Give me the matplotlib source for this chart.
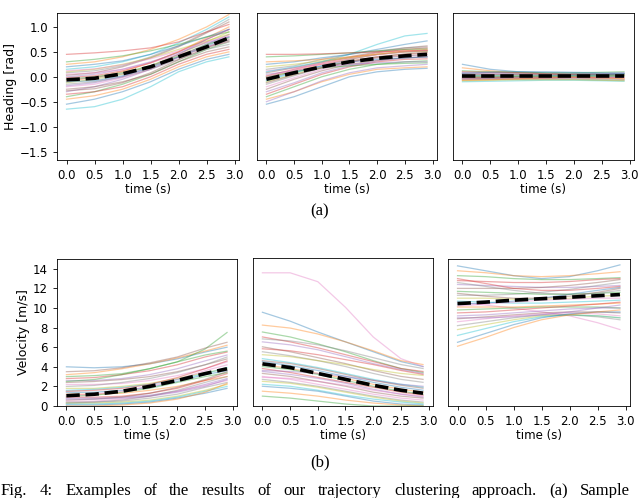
import numpy as np
import matplotlib.pyplot as plt

# time samples (s)
t = [0.0, 0.5, 1.0, 1.5, 2.0, 2.5, 2.9]

# (a) heading [rad], left: turning cluster
heading_turn = [
    [-0.55, -0.45, -0.30, -0.10, 0.15, 0.35, 0.45],
    [-0.45, -0.38, -0.25, -0.05, 0.20, 0.40, 0.50],
    [-0.40, -0.30, -0.15, 0.05, 0.30, 0.55, 0.70],
    [-0.35, -0.30, -0.20, 0.00, 0.25, 0.45, 0.55],
    [-0.30, -0.20, -0.05, 0.15, 0.40, 0.65, 0.85],
    [-0.25, -0.20, -0.10, 0.05, 0.30, 0.50, 0.60],
    [-0.20, -0.15, -0.02, 0.15, 0.38, 0.60, 0.75],
    [-0.15, -0.10, 0.00, 0.15, 0.35, 0.55, 0.65],
    [-0.12, -0.05, 0.05, 0.22, 0.45, 0.70, 0.90],
    [-0.65, -0.60, -0.45, -0.20, 0.10, 0.30, 0.40],
    [-0.10, -0.08, 0.02, 0.18, 0.40, 0.62, 0.80],
    [-0.08, -0.02, 0.10, 0.28, 0.50, 0.78, 1.00],
    [-0.05, 0.00, 0.08, 0.22, 0.42, 0.65, 0.78],
    [-0.02, 0.02, 0.12, 0.28, 0.50, 0.75, 0.95],
    [0.00, 0.05, 0.15, 0.30, 0.48, 0.68, 0.80],
    [0.03, 0.08, 0.20, 0.38, 0.60, 0.88, 1.10],
    [0.05, 0.08, 0.15, 0.28, 0.45, 0.60, 0.70],
    [0.08, 0.12, 0.22, 0.40, 0.62, 0.90, 1.15],
    [0.10, 0.15, 0.25, 0.38, 0.55, 0.72, 0.85],
    [0.15, 0.20, 0.30, 0.45, 0.68, 0.95, 1.20],
    [0.20, 0.25, 0.32, 0.45, 0.62, 0.80, 0.95],
    [0.25, 0.30, 0.40, 0.55, 0.75, 1.00, 1.25],
    [0.30, 0.35, 0.42, 0.52, 0.65, 0.80, 0.90],
    [0.45, 0.48, 0.52, 0.58, 0.70, 0.90, 1.05],
    [-0.18, -0.12, 0.00, 0.20, 0.45, 0.75, 0.95],
    [-0.28, -0.24, -0.12, 0.08, 0.34, 0.58, 0.72],
    [0.12, 0.16, 0.24, 0.36, 0.52, 0.70, 0.82],
    [-0.06, -0.02, 0.06, 0.20, 0.40, 0.60, 0.74],
]
heading_turn_mean = [-0.06, -0.03, 0.06, 0.20, 0.40, 0.60, 0.78]

# (a) heading, middle: slight turn
heading_slight = [
    [-0.55, -0.40, -0.20, 0.00, 0.10, 0.15, 0.17],
    [-0.45, -0.30, -0.10, 0.05, 0.15, 0.18, 0.20],
    [-0.40, -0.20, 0.00, 0.15, 0.25, 0.30, 0.32],
    [-0.35, -0.15, 0.05, 0.20, 0.30, 0.35, 0.36],
    [-0.30, -0.12, 0.08, 0.22, 0.32, 0.38, 0.40],
    [-0.25, -0.05, 0.12, 0.25, 0.33, 0.38, 0.40],
    [-0.20, -0.02, 0.15, 0.28, 0.38, 0.42, 0.44],
    [-0.15, 0.02, 0.18, 0.30, 0.38, 0.42, 0.45],
    [-0.10, 0.05, 0.20, 0.32, 0.40, 0.45, 0.48],
    [-0.08, 0.08, 0.22, 0.35, 0.45, 0.50, 0.52],
    [-0.05, 0.10, 0.22, 0.30, 0.35, 0.38, 0.40],
    [-0.02, 0.12, 0.25, 0.35, 0.45, 0.52, 0.55],
    [0.00, 0.10, 0.18, 0.22, 0.25, 0.27, 0.28],
    [0.02, 0.15, 0.28, 0.38, 0.48, 0.55, 0.58],
    [0.05, 0.12, 0.20, 0.25, 0.28, 0.30, 0.30],
    [0.08, 0.18, 0.30, 0.40, 0.50, 0.58, 0.62],
    [0.12, 0.18, 0.25, 0.32, 0.40, 0.45, 0.48],
    [0.15, 0.22, 0.35, 0.45, 0.52, 0.58, 0.60],
    [0.20, 0.25, 0.32, 0.38, 0.45, 0.50, 0.52],
    [0.10, 0.20, 0.30, 0.45, 0.65, 0.82, 0.87],
    [0.25, 0.30, 0.38, 0.45, 0.55, 0.65, 0.72],
    [0.30, 0.32, 0.35, 0.40, 0.45, 0.50, 0.52],
    [0.40, 0.42, 0.45, 0.48, 0.52, 0.55, 0.56],
    [0.45, 0.45, 0.46, 0.48, 0.50, 0.52, 0.53],
    [-0.50, -0.30, -0.08, 0.08, 0.18, 0.22, 0.25],
    [-0.12, 0.04, 0.18, 0.30, 0.40, 0.46, 0.50],
    [0.00, 0.14, 0.26, 0.36, 0.44, 0.50, 0.53],
]
heading_slight_mean = [-0.05, 0.08, 0.20, 0.30, 0.37, 0.42, 0.45]

# (a) heading, right: straight
heading_straight = [
    [0.25, 0.15, 0.10, 0.08, 0.07, 0.06, 0.06],
    [0.18, 0.12, 0.08, 0.06, 0.05, 0.05, 0.05],
    [0.12, 0.10, 0.09, 0.08, 0.08, 0.09, 0.10],
    [0.10, 0.09, 0.08, 0.06, 0.04, 0.03, 0.02],
    [0.08, 0.07, 0.06, 0.05, 0.05, 0.06, 0.08],
    [0.06, 0.05, 0.05, 0.04, 0.04, 0.04, 0.05],
    [0.05, 0.05, 0.04, 0.03, 0.02, 0.02, 0.02],
    [0.04, 0.04, 0.05, 0.06, 0.06, 0.05, 0.04],
    [0.03, 0.03, 0.03, 0.03, 0.03, 0.03, 0.03],
    [-0.10, -0.09, -0.08, -0.07, -0.07, -0.08, -0.09],
    [0.01, 0.01, 0.01, 0.02, 0.03, 0.04, 0.05],
    [0.00, 0.00, 0.01, 0.01, 0.01, 0.00, 0.00],
    [-0.01, -0.01, 0.00, 0.00, 0.01, 0.01, 0.02],
    [-0.02, -0.02, -0.01, -0.01, -0.01, -0.02, -0.02],
    [-0.03, -0.03, -0.02, -0.02, -0.01, -0.01, -0.01],
    [-0.04, -0.03, -0.03, -0.03, -0.03, -0.04, -0.05],
    [-0.05, -0.05, -0.04, -0.03, -0.02, -0.02, -0.01],
    [-0.06, -0.05, -0.05, -0.05, -0.05, -0.06, -0.07],
    [-0.08, -0.07, -0.06, -0.06, -0.06, -0.07, -0.08],
    [0.02, 0.02, 0.02, 0.02, 0.02, 0.02, 0.01],
    [0.07, 0.09, 0.10, 0.10, 0.09, 0.08, 0.07],
    [-0.07, -0.06, -0.04, -0.02, -0.01, -0.02, -0.04],
]
heading_straight_mean = [0.02, 0.02, 0.02, 0.02, 0.02, 0.02, 0.02]

# (b) velocity [m/s], left: accelerating
vel_accel = [
    [4.0, 3.9, 4.0, 4.3, 4.8, 5.5, 6.0],
    [3.2, 3.4, 3.8, 4.3, 4.9, 5.6, 6.2],
    [3.0, 3.1, 3.3, 3.8, 4.5, 5.8, 7.5],
    [2.8, 2.9, 3.2, 3.6, 4.2, 5.0, 5.5],
    [2.6, 2.6, 2.8, 3.2, 3.8, 4.6, 5.2],
    [2.4, 2.5, 2.7, 3.0, 3.5, 4.2, 4.8],
    [2.2, 2.2, 2.3, 2.6, 3.1, 3.8, 4.5],
    [2.0, 2.1, 2.4, 2.8, 3.4, 4.2, 5.0],
    [1.8, 1.8, 2.0, 2.3, 2.8, 3.4, 3.8],
    [1.6, 1.7, 1.9, 2.2, 2.7, 3.3, 3.9],
    [1.4, 1.4, 1.6, 1.9, 2.5, 3.2, 3.6],
    [1.2, 1.2, 1.3, 1.6, 2.0, 2.6, 3.0],
    [1.0, 1.1, 1.4, 1.8, 2.4, 3.0, 3.4],
    [0.9, 0.9, 1.0, 1.3, 1.8, 2.6, 3.3],
    [0.8, 0.8, 0.9, 1.1, 1.5, 2.2, 2.8],
    [0.6, 0.7, 0.9, 1.3, 1.9, 2.7, 3.5],
    [0.5, 0.5, 0.7, 1.0, 1.5, 2.1, 2.6],
    [0.4, 0.4, 0.5, 0.8, 1.2, 1.9, 2.4],
    [0.3, 0.3, 0.4, 0.6, 1.0, 1.6, 2.2],
    [0.2, 0.2, 0.3, 0.5, 0.9, 1.5, 2.0],
    [0.1, 0.1, 0.2, 0.4, 0.8, 1.3, 1.8],
    [0.0, 0.0, 0.1, 0.3, 0.7, 1.4, 2.3],
    [2.5, 2.7, 3.2, 3.8, 4.5, 5.2, 5.6],
    [1.5, 1.6, 1.8, 2.2, 2.9, 3.8, 4.6],
    [0.7, 0.7, 0.8, 1.0, 1.4, 2.0, 2.7],
    [3.5, 3.6, 3.9, 4.4, 5.0, 5.9, 6.5],
    [1.1, 1.2, 1.5, 2.0, 2.7, 3.6, 4.2],
    [0.3, 0.4, 0.6, 1.0, 1.6, 2.4, 3.0],
]
vel_accel_mean = [1.05, 1.2, 1.5, 2.0, 2.6, 3.3, 3.8]

# (b) velocity, middle: decelerating
vel_decel = [
    [9.5, 8.6, 7.5, 6.5, 5.5, 4.5, 4.0],
    [8.2, 7.9, 7.3, 6.5, 5.6, 4.6, 4.2],
    [7.5, 7.0, 6.3, 5.5, 4.6, 3.8, 3.4],
    [7.0, 6.5, 5.9, 5.2, 4.5, 3.8, 3.5],
    [6.5, 6.2, 5.7, 5.0, 4.3, 3.7, 3.3],
    [6.0, 5.5, 4.9, 4.3, 3.6, 3.0, 2.7],
    [13.5, 13.5, 12.6, 10.0, 7.0, 4.8, 4.0],
    [5.5, 5.1, 4.6, 4.0, 3.3, 2.7, 2.4],
    [5.2, 5.0, 4.6, 4.2, 3.7, 3.3, 3.1],
    [4.8, 4.4, 3.9, 3.3, 2.7, 2.2, 1.9],
    [4.5, 4.1, 3.6, 3.0, 2.4, 1.9, 1.6],
    [4.2, 3.8, 3.3, 2.8, 2.2, 1.7, 1.4],
    [4.0, 3.7, 3.2, 2.6, 2.0, 1.5, 1.2],
    [3.8, 3.4, 2.9, 2.4, 1.9, 1.4, 1.1],
    [3.5, 3.2, 2.8, 2.3, 1.7, 1.2, 0.9],
    [3.3, 3.0, 2.5, 2.0, 1.4, 1.0, 0.8],
    [3.0, 2.7, 2.2, 1.7, 1.2, 0.8, 0.6],
    [2.7, 2.4, 2.0, 1.5, 1.0, 0.6, 0.4],
    [2.5, 2.3, 1.9, 1.4, 0.9, 0.5, 0.3],
    [2.2, 2.0, 1.6, 1.1, 0.7, 0.4, 0.2],
    [2.0, 1.8, 1.5, 1.0, 0.5, 0.2, 0.1],
    [1.5, 1.3, 1.0, 0.6, 0.3, 0.1, 0.0],
    [1.0, 0.8, 0.5, 0.2, 0.0, 0.0, 0.0],
    [5.8, 5.6, 5.2, 4.7, 4.2, 3.6, 3.2],
    [3.6, 3.5, 3.3, 3.0, 2.6, 2.2, 2.0],
    [4.6, 4.3, 3.8, 3.2, 2.6, 2.1, 1.8],
    [2.9, 2.8, 2.5, 2.1, 1.6, 1.2, 1.0],
    [6.8, 6.6, 6.2, 5.6, 4.9, 4.2, 3.8],
]
vel_decel_mean = [4.27, 3.9, 3.3, 2.7, 2.1, 1.6, 1.3]

# (b) velocity, right: constant speed
vel_const = [
    [14.3, 13.8, 13.3, 13.0, 13.2, 13.8, 14.4],
    [13.8, 13.6, 13.3, 13.2, 13.3, 13.5, 13.7],
    [13.3, 13.2, 13.0, 12.9, 12.9, 13.0, 13.1],
    [12.8, 12.7, 12.6, 12.6, 12.7, 12.9, 13.0],
    [12.4, 12.3, 12.2, 12.1, 12.1, 12.2, 12.3],
    [12.0, 12.0, 12.0, 12.1, 12.3, 12.6, 12.9],
    [10.6, 10.3, 10.0, 9.6, 9.2, 8.5, 7.8],
    [11.3, 11.3, 11.4, 11.6, 11.9, 12.3, 12.6],
    [11.0, 11.0, 10.9, 10.9, 11.0, 11.2, 11.3],
    [10.7, 10.6, 10.5, 10.5, 10.6, 10.7, 10.8],
    [10.4, 10.5, 10.7, 11.0, 11.4, 11.8, 12.1],
    [10.1, 10.1, 10.1, 10.2, 10.3, 10.4, 10.5],
    [9.8, 9.9, 10.0, 10.1, 10.1, 10.1, 10.0],
    [9.5, 9.6, 9.8, 10.0, 10.2, 10.4, 10.6],
    [9.2, 9.3, 9.5, 9.7, 9.9, 10.0, 10.0],
    [8.9, 9.1, 9.3, 9.5, 9.6, 9.6, 9.5],
    [8.6, 8.9, 9.2, 9.4, 9.5, 9.4, 9.2],
    [8.2, 8.6, 9.0, 9.3, 9.3, 9.1, 8.8],
    [7.8, 8.3, 8.8, 9.2, 9.3, 9.2, 9.0],
    [7.2, 7.9, 8.6, 9.1, 9.3, 9.2, 9.0],
    [6.5, 7.4, 8.3, 9.0, 9.4, 9.6, 9.6],
    [6.1, 7.0, 8.0, 8.8, 9.3, 9.6, 9.8],
    [11.7, 11.6, 11.5, 11.4, 11.4, 11.5, 11.6],
    [13.0, 12.5, 12.0, 11.8, 11.8, 12.0, 12.2],
    [9.0, 9.0, 9.1, 9.3, 9.6, 10.0, 10.3],
    [11.5, 11.2, 11.0, 11.0, 11.2, 11.6, 12.0],
    [10.2, 10.4, 10.6, 10.8, 10.9, 11.0, 11.0],
    [12.6, 12.2, 11.8, 11.5, 11.4, 11.5, 11.8],
]
vel_const_mean = [10.45, 10.6, 10.8, 10.95, 11.1, 11.25, 11.37]

W, H = 640, 498
fig = plt.figure(figsize=(W / 100, H / 100), dpi=100)


def box(x0, y0, x1, y1):
    # pixel box (top-left origin) -> figure fraction
    return [x0 / W, 1 - y1 / H, (x1 - x0) / W, (y1 - y0) / H]


panels = [
    (box(57, 13, 239, 160), heading_turn, heading_turn_mean, (-1.67, 1.28), "Heading [rad]"),
    (box(257, 13, 437, 160), heading_slight, heading_slight_mean, (-1.67, 1.28), None),
    (box(453, 13, 634, 160), heading_straight, heading_straight_mean, (-1.67, 1.28), None),
    (box(57, 259, 237, 406), vel_accel, vel_accel_mean, (0, 15), "Velocity [m/s]"),
    (box(253, 258, 433, 406), vel_decel, vel_decel_mean, (0, 15), None),
    (box(448, 259, 630, 406), vel_const, vel_const_mean, (0, 15), None),
]

for rect, trajs, mean, ylim, ylabel in panels:
    ax = fig.add_axes(rect)
    for tr in trajs:
        ax.plot(t, tr, lw=0.9, alpha=0.4)
    ax.plot(t, mean, color="black", ls="--", lw=2.6)
    ax.set_xlim(-0.17, 3.08)
    ax.set_ylim(*ylim)
    ax.set_xticks([0.0, 0.5, 1.0, 1.5, 2.0, 2.5, 3.0])
    ax.tick_params(labelsize=8.5, length=3, width=0.6)
    ax.set_xlabel("time (s)", fontsize=8.5, labelpad=1)
    if ylabel:
        ax.set_ylabel(ylabel, fontsize=9, labelpad=2)
        if ylim[1] > 10:
            ax.set_yticks([0, 2, 4, 6, 8, 10, 12, 14])
    else:
        ax.tick_params(left=False, labelleft=False)
    for s in ax.spines.values():
        s.set_linewidth(0.6)

serif = "Liberation Serif"
fig.text(320 / W, 1 - 211 / H, "(a)", ha="center", va="center", fontsize=12, family=serif)
fig.text(320 / W, 1 - 462 / H, "(b)", ha="center", va="center", fontsize=12, family=serif)

# justified caption line, cut at the bottom edge like the page crop
words = ["Fig.", "4:", "Examples", "of", "the", "results", "of", "our", "trajectory",
         "clustering", "approach.", "(a)", "Sample"]
renderer = fig.canvas.get_renderer()
items = [fig.text(0, 1 - 495 / H, w, ha="left", va="baseline", fontsize=12, family=serif)
         for w in words]
widths = [it.get_window_extent(renderer).width for it in items]
left, right = 1, 630
gap = (right - left - sum(widths)) / (len(words) - 1)
x = left
for it, wd in zip(items, widths):
    it.set_x(x / W)
    x += wd + gap

fig.savefig("out.png", dpi=100)
